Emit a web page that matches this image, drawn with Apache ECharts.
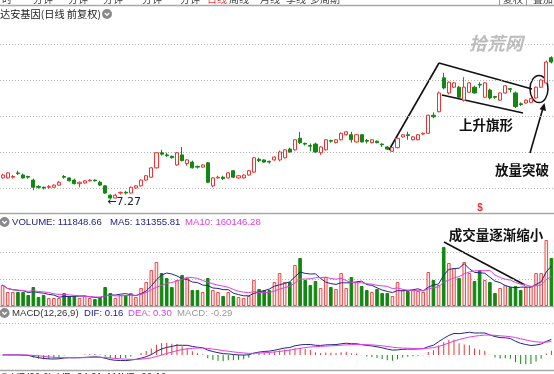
<!DOCTYPE html>
<html><head><meta charset="utf-8">
<script src="https://cdn.jsdelivr.net/npm/echarts@6/dist/echarts.min.js"></script>
<style>html,body{margin:0;padding:0;background:#fff;}#c{width:554px;height:374px;}</style>
</head><body><div id="c"></div>
<script>
const opens = [7.56,7.56,7.57,7.63,7.60,7.58,7.53,7.44,7.43,7.43, 7.43,7.46,7.58,7.56,7.53,7.48,7.49,7.52,7.53,7.50, 7.45,7.32,7.28,7.35,7.36,7.35,7.42,7.45,7.53,7.57, 7.70,7.91,7.88,7.86,7.74,7.88,7.76,7.78,7.72,7.71, 7.77,7.45,7.56,7.57,7.56,7.66,7.56,7.56,7.60,7.64, 7.82,7.81,7.79,7.81,7.81,7.84,7.96,7.95,8.11,8.04, 8.01,8.03,7.91,7.95,8.08,8.05,8.09,8.16,8.16,8.06, 8.16,8.08,8.05,8.07,8.03,7.99,7.93,7.98,8.13,8.16, 8.09,8.09,8.17,8.18,8.43,8.48,8.95,8.74,8.82,8.82, 8.64,8.75,8.82,8.86,8.68,8.78,8.69,8.64,8.74,8.80, 8.74,8.59,8.60,8.61,8.67,8.82,8.88,9.23];
const closes = [7.60,7.63,7.58,7.62,7.56,7.57,7.43,7.43,7.42,7.44, 7.46,7.50,7.57,7.52,7.48,7.50,7.52,7.53,7.52,7.46, 7.35,7.28,7.32,7.36,7.35,7.43,7.45,7.53,7.59,7.70, 7.91,7.89,7.87,7.84,7.91,7.80,7.81,7.70,7.71,7.74, 7.50,7.56,7.57,7.55,7.63,7.57,7.59,7.60,7.66,7.84, 7.80,7.78,7.78,7.85,7.92,7.95,7.92,8.09,8.05,8.03, 8.00,7.92,7.99,8.09,8.07,8.09,8.18,8.20,8.09,8.16, 8.06,8.07,8.09,8.05,8.02,7.96,7.98,8.11,8.16,8.15, 8.13,8.16,8.18,8.43,8.41,8.74,8.81,8.89,8.88,8.68, 8.82,8.88,8.74,8.85,8.88,8.67,8.68,8.74,8.84,8.79, 8.55,8.58,8.64,8.66,8.82,8.92,9.17,9.17];
const lows = [7.55,7.55,7.55,7.60,7.55,7.55,7.39,7.41,7.40,7.41, 7.42,7.45,7.55,7.51,7.47,7.43,7.48,7.51,7.51,7.45, 7.34,7.27,7.28,7.33,7.33,7.34,7.41,7.44,7.52,7.56, 7.69,7.87,7.85,7.83,7.73,7.79,7.73,7.69,7.69,7.70, 7.49,7.43,7.55,7.53,7.55,7.56,7.55,7.55,7.59,7.63, 7.78,7.77,7.76,7.80,7.79,7.83,7.91,7.94,8.03,8.01, 7.93,7.91,7.88,7.94,8.05,8.04,8.08,8.15,8.05,8.05, 8.05,8.04,8.04,8.04,7.99,7.95,7.92,7.97,8.12,8.09, 8.08,8.08,8.16,8.17,8.39,8.47,8.79,8.72,8.81,8.67, 8.62,8.74,8.73,8.81,8.67,8.65,8.66,8.63,8.73,8.75, 8.53,8.56,8.59,8.60,8.66,8.81,8.87,9.15];
const highs = [7.62,7.64,7.60,7.66,7.62,7.59,7.55,7.46,7.44,7.46, 7.47,7.52,7.60,7.57,7.55,7.51,7.53,7.54,7.54,7.52, 7.46,7.33,7.34,7.37,7.38,7.44,7.46,7.54,7.60,7.71, 7.92,7.95,7.91,7.87,7.92,7.99,7.82,7.80,7.73,7.75, 7.78,7.57,7.59,7.59,7.64,7.67,7.60,7.61,7.67,7.85, 7.84,7.82,7.80,7.86,7.94,7.96,7.98,8.10,8.20,8.05, 8.04,8.05,8.00,8.10,8.09,8.10,8.19,8.21,8.20,8.17, 8.17,8.10,8.10,8.08,8.04,8.00,7.99,8.12,8.17,8.20, 8.14,8.17,8.19,8.44,8.47,8.76,9.02,8.90,8.89,8.84, 8.96,8.89,8.84,8.89,8.89,8.80,8.70,8.75,8.85,8.81, 8.76,8.61,8.65,8.67,8.83,8.93,9.19,9.25];
const volumes = [42000,28000,28000,28000,28000,22000,38000,18000,22000,16000, 16000,16000,26000,20000,20000,16000,20000,16000,14000,16000, 38000,26000,16000,22000,22000,26000,18000,36000,48000,72000, 88000,66000,56000,38000,52000,62000,56000,32000,32000,28000, 56000,32000,28000,20000,28000,20000,18000,16000,20000,52000, 34000,32000,32000,48000,66000,48000,48000,82000,96000,52000, 42000,50000,36000,58000,38000,34000,66000,36000,58000,48000, 40000,32000,28000,34000,26000,26000,20000,48000,32000,30000, 32000,30000,28000,68000,52000,42000,118000,86000,76000,56000, 88000,66000,50000,72000,52000,48000,26000,36000,42000,38000, 40000,32000,38000,40000,66000,66000,132000,96000];
const titleText = '达安基因(日线 前复权)';
const volLabels = ['VOLUME: 111848.66', 'MA5: 131355.81', 'MA10: 160146.28'];
const macdLabels = ['MACD(12,26,9)', 'DIF: 0.16', 'DEA: 0.30', 'MACD: -0.29'];

const N = closes.length;
const cats = closes.map((_, i) => String(i + 1));
const kData = closes.map((c, i) => [opens[i], c, lows[i], highs[i]]);
const up = closes.map((c, i) => c >= opens[i]);
function ma(arr, n) { return arr.map((_, i) => { const s = Math.max(0, i - n + 1); let t = 0; for (let j = s; j <= i; j++) t += arr[j]; return t / (i - s + 1); }); }
function ema(arr, n) { const k = 2 / (n + 1); let p = arr[0]; return arr.map((v, i) => { p = i === 0 ? v : p + k * (v - p); return p; }); }
const e12 = ema(closes, 12), e26 = ema(closes, 26);
const dif = e12.map((v, i) => v - e26[i]);
const dea = ema(dif, 9);
const hist = dif.map((v, i) => 2 * (v - dea[i]));

const RED = '#ee3333', GREEN = '#118811', NAVY = '#23238c', MAG = '#e040e0';
const gL = -1.58, gR = -1.72;
const dotted = { show: true, showMinLine: false, showMaxLine: false, lineStyle: { color: '#b4b4b4', type: [1, 2], width: 1 } };
const helper = (g, max) => ({ gridIndex: g, min: 0, max: max, interval: 1, position: 'right', axisLine: { show: false }, axisTick: { show: false }, axisLabel: { show: false }, splitLine: dotted });
const F = '"Liberation Sans", Arial, sans-serif';
const CJK = '"Noto Sans CJK SC", sans-serif';

const graphic = [];
// top tab strip (cut off)
const tabs = [['分时',-8],['分钟',33],['分钟',68],['分钟',103],['分钟',142],['分钟',180],['日线',207,RED],['周线',229],['月线',260],['季线',286],['多周期',310]];
tabs.forEach(t => graphic.push({ type: 'text', style: { text: t[0], x: t[1], y: 4, fill: t[2] || '#444', font: '10px ' + CJK, textVerticalAlign: 'bottom', verticalAlign: 'bottom' } }));
graphic.push({ type: 'rect', shape: { x: 499.5, y: -10, width: 27, height: 15.5 }, style: { fill: '#fff', stroke: '#999' } });
graphic.push({ type: 'text', style: { text: '复权', x: 503, y: 4, fill: '#444', font: '10px ' + CJK, verticalAlign: 'bottom', textVerticalAlign: 'bottom' } });
graphic.push({ type: 'text', style: { text: '叠加', x: 533, y: 4, fill: '#444', font: '10px ' + CJK, verticalAlign: 'bottom', textVerticalAlign: 'bottom' } });
// separators
[[5.5, 1.5], [213.5, 1.5], [306.5, 1.5], [370.5, 1.5]].forEach(s => graphic.push({ type: 'line', shape: { x1: 0, y1: s[0], x2: 554, y2: s[0] }, style: { stroke: '#a8a8a8', lineWidth: s[1] } }));
// title + icons
graphic.push({ type: 'text', style: { text: titleText, x: 0, y: 14, fill: '#222', font: '10.2px ' + CJK, verticalAlign: 'middle', textVerticalAlign: 'middle' } });
function icon(cx, cy) {
  graphic.push({ type: 'circle', shape: { cx: cx, cy: cy, r: 5 }, style: { fill: '#8a8a8a' } });
  graphic.push({ type: 'polyline', shape: { points: [[cx - 2.2, cy - 1], [cx, cy + 1.3], [cx + 2.2, cy - 1]] }, style: { stroke: '#fff', lineWidth: 1.3, fill: null } });
}
icon(107, 14); icon(4.5, 222); icon(4.5, 313); icon(4.5, 378);
// indicator labels
[[volLabels[0], 12, NAVY], [volLabels[1], 110, NAVY], [volLabels[2], 185, MAG]].forEach(t => graphic.push({ type: 'text', style: { text: t[0], x: t[1], y: 222, fill: t[2], font: '9.6px ' + F, verticalAlign: 'middle', textVerticalAlign: 'middle' } }));
[[macdLabels[0], 12, '#333'], [macdLabels[1], 84, NAVY], [macdLabels[2], 128, MAG], [macdLabels[3], 177, '#999']].forEach(t => graphic.push({ type: 'text', style: { text: t[0], x: t[1], y: 313, fill: t[2], font: '9.6px ' + F, verticalAlign: 'middle', textVerticalAlign: 'middle' } }));
graphic.push({ type: 'text', style: { text: 'VR(26,6)  VR: 84.21  MAVR: 90.16', x: 12, y: 373, fill: '#333', font: '10px ' + F } });
// watermark
graphic.push({ type: 'text', style: { text: '拾荒网', x: 496, y: 43, fill: '#bdbdbd', font: 'italic bold 18px ' + CJK, textAlign: 'center', align: 'center', verticalAlign: 'middle', textVerticalAlign: 'middle' } });
// annotations
const ink = { stroke: '#111', lineWidth: 1.6 };
graphic.push({ type: 'line', shape: { x1: 389, y1: 150, x2: 439, y2: 63 }, style: ink });
graphic.push({ type: 'line', shape: { x1: 439, y1: 63, x2: 532, y2: 89 }, style: ink });
graphic.push({ type: 'line', shape: { x1: 442, y1: 95, x2: 523, y2: 113 }, style: ink });
graphic.push({ type: 'ellipse', shape: { cx: 539, cy: 89, rx: 9, ry: 13.5 }, style: { stroke: '#111', lineWidth: 1.5, fill: null } });
graphic.push({ type: 'line', shape: { x1: 530, y1: 153, x2: 543, y2: 108 }, style: ink });
graphic.push({ type: 'polygon', shape: { points: [[544.5, 103], [546, 111], [539.5, 109.3]] }, style: { fill: '#111' } });
graphic.push({ type: 'line', shape: { x1: 444, y1: 242, x2: 525, y2: 285 }, style: ink });
[['上升旗形', 486, 125], ['放量突破', 522, 170], ['成交量逐渐缩小', 496, 235]].forEach(t => graphic.push({ type: 'text', style: { text: t[0], x: t[1], y: t[2], fill: '#111', font: 'bold 13.5px ' + CJK, textAlign: 'center', align: 'center', verticalAlign: 'middle', textVerticalAlign: 'middle' } }));
graphic.push({ type: 'text', style: { text: '$', x: 480, y: 208, fill: RED, font: 'bold 10px ' + F, textAlign: 'center', align: 'center', verticalAlign: 'middle', textVerticalAlign: 'middle' } });

const chart = echarts.init(document.getElementById('c'), null, { renderer: 'canvas' });
chart.setOption({
  animation: false,
  backgroundColor: '#fff',
  grid: [
    { left: gL, right: gR, top: 8, height: 216 },
    { left: gL, right: gR, top: 225, height: 81 },
    { left: gL, right: gR, top: 319, height: 52 }
  ],
  xAxis: [0, 1, 2].map(g => ({ type: 'category', gridIndex: g, data: cats, boundaryGap: true, show: false })),
  yAxis: [
    { gridIndex: 0, min: 6.92, max: 9.92, show: false },
    { gridIndex: 1, min: 0, max: 162000, show: false },
    { gridIndex: 2, min: -0.16, max: 0.36, show: false },
    helper(0, 6), helper(1, 3), helper(2, 52 / 48)
  ],
  graphic: graphic,
  series: [
    { type: 'candlestick', xAxisIndex: 0, yAxisIndex: 0, data: kData, barWidth: 3.6,
      itemStyle: { color: '#fff', color0: GREEN, borderColor: RED, borderColor0: GREEN, borderWidth: 1 },
      markPoint: { symbol: 'circle', symbolSize: 0, data: [{ coord: [21, lows[21]], value: lows[21] }],
        label: { show: true, position: 'right', distance: 0, offset: [-3, 3], color: '#222', fontSize: 11, fontFamily: 'DejaVu Sans', formatter: p => '\u2190' + p.value.toFixed(2) } } },
    { type: 'bar', xAxisIndex: 1, yAxisIndex: 1, barWidth: 3.6,
      data: volumes.map((v, i) => ({ value: v, itemStyle: { color: up[i] ? '#fde6e6' : GREEN, borderColor: up[i] ? '#ef4a4a' : GREEN, borderWidth: 1 } })) },
    { type: 'line', xAxisIndex: 1, yAxisIndex: 1, data: ma(volumes, 5), symbol: 'none', lineStyle: { color: NAVY, width: 1 } },
    { type: 'line', xAxisIndex: 1, yAxisIndex: 1, data: ma(volumes, 10), symbol: 'none', lineStyle: { color: MAG, width: 1 } },
    { type: 'bar', xAxisIndex: 2, yAxisIndex: 2, barWidth: 1,
      data: hist.map(v => ({ value: v, itemStyle: { color: v >= 0 ? RED : GREEN } })) },
    { type: 'line', xAxisIndex: 2, yAxisIndex: 2, data: dif, symbol: 'none', lineStyle: { color: NAVY, width: 1 } },
    { type: 'line', xAxisIndex: 2, yAxisIndex: 2, data: dea, symbol: 'none', lineStyle: { color: MAG, width: 1 } }
  ]
});
</script></body></html>
